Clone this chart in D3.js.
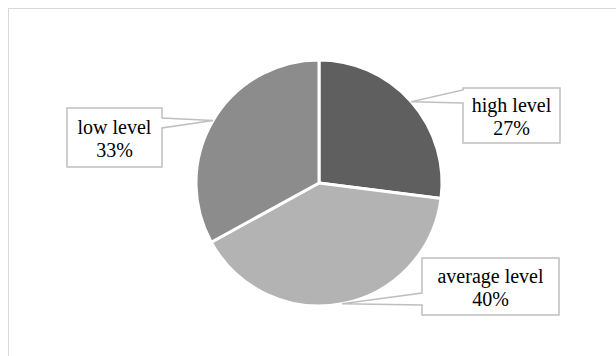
<!DOCTYPE html>
<html>
<head>
<meta charset="utf-8">
<script src="https://cdn.jsdelivr.net/npm/d3@7"></script>
<style>
  body { margin: 0; background: #fff; }
  svg { display: block; }
  .label { font-family: "Liberation Serif", "DejaVu Serif", serif; font-size: 20px; }
</style>
</head>
<body>
<div id="container"></div>
<script>
// ------ Data ------
const categories = ["high level", "average level", "low level"];
const shares = [27, 40, 33];
const sliceColors = ["#5f5f5f", "#b3b3b3", "#8c8c8c"];

// ------ Layout ------
const width = 616,
  height = 356;
const cx = 319, cy = 183, radius = 123;

// label boxes: [x0, y0, x1, y1], pointer side and where the pointer meets the box
const boxes = {
  "high level":    { box: [463, 88, 560, 143], side: "left",  base: [2, 15] },
  "average level": { box: [422, 258, 559, 315], side: "left", base: [35, 47] },
  "low level":     { box: [67, 108, 162, 167], side: "right", base: [10, 20] }
};

const svg = d3.select('#container').append('svg')
  .attr('width', width)
  .attr('height', height);

// chart area border (cut off by the window at right and bottom)
svg.append('rect')
  .attr('x', 8.5).attr('y', 8.5)
  .attr('width', 700).attr('height', 400)
  .attr('fill', 'none')
  .attr('stroke', '#d9d9d9')
  .attr('stroke-width', 1);

const pie = d3.pie().sort(null).value(d => d);
const arcs = pie(shares);

const arc = d3.arc().innerRadius(0).outerRadius(radius);

const g = svg.append('g').attr('transform', `translate(${cx},${cy})`);

g.selectAll('.slice').data(arcs)
  .enter().append('path')
  .attr('class', 'slice')
  .attr('d', arc)
  .attr('fill', (d, i) => sliceColors[i])
  .attr('stroke', '#fff')
  .attr('stroke-width', 3)
  .attr('stroke-linejoin', 'round');

// callouts
function calloutPath(d, i) {
  const b = boxes[categories[i]];
  const [x0, y0, x1, y1] = b.box;
  const a = (d.startAngle + d.endAngle) / 2;
  const tx = cx + radius * Math.sin(a),
    ty = cy - radius * Math.cos(a);
  const ya = y0 + b.base[0], yb = y0 + b.base[1];
  if (b.side === "left") {
    return `M${x0},${y0}H${x1}V${y1}H${x0}V${yb}L${tx},${ty}L${x0},${ya}Z`;
  }
  return `M${x0},${y0}H${x1}V${ya}L${tx},${ty}L${x1},${yb}V${y1}H${x0}Z`;
}

const labels = svg.append('g').attr('class', 'labels');

labels.selectAll('.callout').data(arcs)
  .enter().append('path')
  .attr('class', 'callout')
  .attr('d', calloutPath)
  .attr('fill', '#fff')
  .attr('stroke', '#bfbfbf')
  .attr('stroke-width', 1.5)
  .attr('stroke-linejoin', 'miter');

const txt = labels.selectAll('.label').data(arcs)
  .enter().append('text')
  .attr('class', 'label')
  .attr('fill', '#000')
  .attr('text-anchor', 'middle');

txt.each(function(d, i) {
  const [x0, y0, x1, y1] = boxes[categories[i]].box;
  const mx = (x0 + x1) / 2, my = (y0 + y1) / 2;
  const t = d3.select(this);
  t.append('tspan').attr('x', mx).attr('y', my - 4).text(categories[i]);
  t.append('tspan').attr('x', mx).attr('y', my + 19).text(Math.round(d.data) + '%');
});
</script>
</body>
</html>
